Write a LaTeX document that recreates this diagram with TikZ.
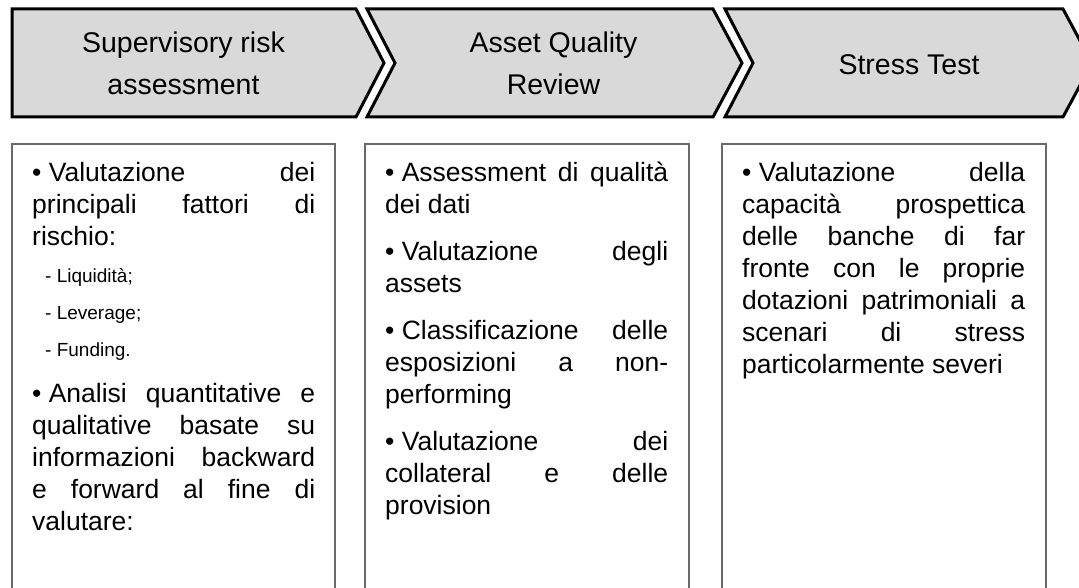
\documentclass[tikz,border=0pt]{standalone}
\usepackage{fontspec}
\setmainfont{Liberation Sans}
\definecolor{phasegray}{RGB}{217,217,217}
\definecolor{panelgray}{RGB}{105,105,105}
% one justified line, one closing (ragged) line, gap between items
\newcommand\jline[1]{\makebox[\linewidth][s]{#1}\par}
\newcommand\eline[1]{#1\par}
\newcommand\itemgap{\vspace{15pt}}
\newcommand\bul[1]{\mbox{•\ #1}}
\begin{document}
\begin{tikzpicture}[x=1pt,y=-1pt,
  phase/.style={draw=black, line width=3pt, fill=phasegray, line join=miter},
  phasetext/.style={font=\fontsize{28.5}{34}\selectfont, inner sep=0pt, anchor=base},
  panel/.style={draw=panelgray, line width=1.5pt},
  body/.style={inner sep=0pt, anchor=base west, font=\fontsize{26.5}{32}\selectfont}]
\useasboundingbox (0,0) rectangle (1079,588);
\clip (0,0) rectangle (1079,588);

% process chevrons
\draw[phase] (12,9) -- (356,9) -- (384,63) -- (356,117) -- (12,117) -- cycle;
\draw[phase] (367,9) -- (713,9) -- (742,63) -- (713,117) -- (367,117) -- (395,63) -- cycle;
\draw[phase] (725,9) -- (1063,9) -- (1092,63) -- (1063,117) -- (725,117) -- (753,63) -- cycle;

\node[phasetext] (h1a) at (183.5,53) {Supervisory risk};
\node[phasetext] (h1b) at (183.5,95) {assessment};
\node[phasetext] (h2a) at (553.5,53) {Asset Quality};
\node[phasetext] (h2b) at (553.5,95) {Review};
\node[phasetext] (h3) at (909,75) {Stress Test};

% open-bottomed panels
\draw[panel] (12,600) -- (12,144) -- (335,144) -- (335,600);
\draw[panel] (365,600) -- (365,144) -- (689,144) -- (689,600);
\draw[panel] (722,600) -- (722,144) -- (1046,144) -- (1046,600);

\node[body] (t1) at (32,182) {\begin{minipage}[t]{283pt}\setlength\parindent{0pt}%
\jline{\bul{Valutazione} dei}
\jline{principali fattori di}
\eline{rischio:}
{\fontsize{19}{37}\selectfont
\eline{\hspace*{13pt}- Liquidità;}
\eline{\hspace*{13pt}- Leverage;}
\eline{\hspace*{13pt}- Funding.}}
\vspace{14pt}
\jline{\bul{Analisi} quantitative e}
\jline{qualitative basate su}
\jline{informazioni backward}
\jline{e forward al fine di}
\eline{valutare:}
\end{minipage}};

\node[body] (t2) at (385,182) {\begin{minipage}[t]{283pt}\setlength\parindent{0pt}%
\jline{\bul{Assessment} di qualità}
\eline{dei dati}
\itemgap
\jline{\bul{Valutazione} degli}
\eline{assets}
\itemgap
\jline{\bul{Classificazione} delle}
\jline{esposizioni a non-}
\eline{performing}
\itemgap
\jline{\bul{Valutazione} dei}
\jline{collateral e delle}
\eline{provision}
\end{minipage}};

\node[body] (t3) at (742,182) {\begin{minipage}[t]{283pt}\setlength\parindent{0pt}%
\jline{\bul{Valutazione} della}
\jline{capacità prospettica}
\jline{delle banche di far}
\jline{fronte con le proprie}
\jline{dotazioni patrimoniali a}
\jline{scenari di stress}
\eline{particolarmente severi}
\end{minipage}};
\end{tikzpicture}
\end{document}
